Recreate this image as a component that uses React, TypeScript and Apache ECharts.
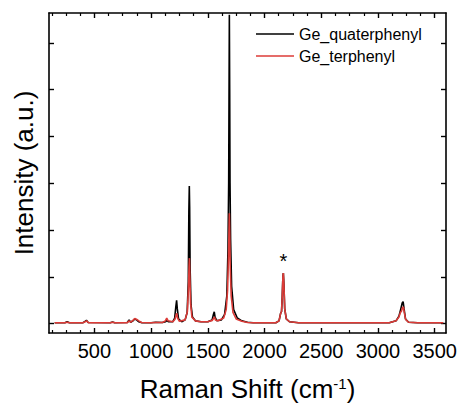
import React, { useEffect, useRef } from "react";
import * as echarts from "echarts";

// Raman spectra, [Raman shift (cm^-1), intensity (a.u.)]
const quaterphenylSpectrum: [number, number][] = [
  [150, 0.01], [240, 0.01], [260, 0.02], [280, 0.01], [400, 0.01], [418, 0.025], [430, 0.035], [445, 0.012],
  [640, 0.01], [660, 0.018], [680, 0.01], [790, 0.012], [806, 0.04], [820, 0.015], [840, 0.03], [856, 0.05],
  [872, 0.04], [892, 0.02], [920, 0.01], [1000, 0.01], [1040, 0.015], [1100, 0.012], [1128, 0.02], [1140, 0.035],
  [1152, 0.02], [1190, 0.02], [1208, 0.06], [1218, 0.18], [1225, 0.25], [1231, 0.16], [1242, 0.05], [1270, 0.02],
  [1300, 0.04], [1318, 0.12], [1328, 0.45], [1333, 1.2], [1337, 1.47], [1340, 1.25], [1344, 0.6], [1352, 0.2],
  [1365, 0.07], [1390, 0.03], [1440, 0.02], [1500, 0.02], [1538, 0.04], [1550, 0.1], [1557, 0.126], [1564, 0.07],
  [1580, 0.03], [1620, 0.04], [1648, 0.1], [1668, 0.3], [1678, 0.8], [1684, 1.5], [1687, 2.4], [1690, 3.3],
  [1693, 2.5], [1696, 1.5], [1701, 0.9], [1710, 0.4], [1728, 0.15], [1760, 0.06], [1800, 0.03], [1850, 0.015],
  [1900, 0.01], [2100, 0.01], [2128, 0.03], [2142, 0.11], [2150, 0.13], [2156, 0.28], [2162, 0.5], [2166, 0.54],
  [2171, 0.42], [2178, 0.16], [2192, 0.05], [2220, 0.02], [2300, 0.01], [3100, 0.01], [3160, 0.03], [3185, 0.08],
  [3200, 0.15], [3214, 0.22], [3222, 0.235], [3230, 0.16], [3243, 0.05], [3270, 0.015], [3350, 0.01], [3575, 0.01],
];

const terphenylSpectrum: [number, number][] = [
  [150, 0.01], [240, 0.01], [260, 0.015], [280, 0.01], [400, 0.01], [418, 0.02], [432, 0.03], [448, 0.01],
  [640, 0.01], [660, 0.015], [680, 0.01], [790, 0.01], [806, 0.03], [820, 0.015], [840, 0.035], [856, 0.055],
  [874, 0.045], [892, 0.03], [915, 0.012], [1000, 0.01], [1040, 0.012], [1100, 0.012], [1126, 0.03], [1138, 0.06],
  [1150, 0.03], [1192, 0.02], [1212, 0.05], [1222, 0.1], [1227, 0.11], [1234, 0.06], [1250, 0.025], [1300, 0.04],
  [1320, 0.13], [1330, 0.4], [1335, 0.62], [1338, 0.7], [1342, 0.5], [1348, 0.22], [1360, 0.07], [1390, 0.03],
  [1440, 0.02], [1500, 0.02], [1540, 0.035], [1552, 0.06], [1559, 0.07], [1567, 0.04], [1590, 0.03], [1640, 0.06],
  [1662, 0.15], [1674, 0.35], [1682, 0.7], [1687, 1.0], [1690, 1.18], [1693, 1.0], [1698, 0.6], [1706, 0.3],
  [1722, 0.12], [1750, 0.05], [1800, 0.025], [1850, 0.012], [1900, 0.01], [2100, 0.01], [2128, 0.03], [2142, 0.11],
  [2150, 0.13], [2156, 0.28], [2162, 0.5], [2166, 0.54], [2171, 0.42], [2178, 0.16], [2192, 0.05], [2220, 0.02],
  [2300, 0.01], [3100, 0.01], [3160, 0.03], [3185, 0.07], [3198, 0.12], [3206, 0.13], [3216, 0.17], [3224, 0.18],
  [3232, 0.12], [3244, 0.045], [3270, 0.015], [3350, 0.01], [3575, 0.01],
];

const seriesNames = ["Ge_quaterphenyl", "Ge_terphenyl"];
const seriesColors = ["#000000", "#dc3b37"];

// axis ticks (cm^-1 and a.u.)
const xMajorTicks = [500, 1000, 1500, 2000, 2500, 3000, 3500];
const xMinorTicks = [125, 250, 375, 625, 750, 875, 1125, 1250, 1375, 1625, 1750, 1875,
  2125, 2250, 2375, 2625, 2750, 2875, 3125, 3250, 3375];
const yTicks = [0, 0.5, 1, 1.5, 2, 2.5, 3];

// the peak marked with an asterisk
const markedPeak: [number, number] = [2166, 0.54];

const FONT = "'Liberation Sans', Arial, Helvetica, sans-serif";

export default function App() {
  const ref = useRef<HTMLDivElement>(null);

  useEffect(() => {
    if (!ref.current) return;
    const chart = echarts.init(ref.current, undefined, { renderer: "svg" });

    const frame = { show: true, onZero: false, lineStyle: { color: "#000", width: 1.6 } };
    const noLine = { show: false, onZero: false };
    const X_MIN = 100;
    const X_MAX = 3600;
    const Y_MIN = -0.1;
    const Y_MAX = 3.32;
    const majorTick = { color: "#000", width: 1.4 };
    const minorTick = { color: "#000", width: 1.2 };
    const gridBox = { left: 49, right: 15, top: 13, bottom: 71, containLabel: false, outerBoundsMode: "none" };

    // grid 0 carries the data and the major ticks, grid 1 (same box) only the minor x ticks
    const xAxisFor = (gridIndex: number, position: string, extra: object) => ({
      type: "value",
      gridIndex,
      position,
      min: X_MIN,
      max: X_MAX,
      splitLine: { show: false },
      axisLabel: { show: false },
      ...extra,
    });

    chart.setOption({
      animation: false,
      backgroundColor: "#fff",
      textStyle: { fontFamily: FONT },
      grid: [gridBox, gridBox],
      legend: {
        orient: "vertical",
        left: 251,
        top: 21,
        itemWidth: 38,
        itemHeight: 14,
        itemGap: 6,
        icon: "path://M0,7 L38,7 L38,8.4 L0,8.4 Z",
        data: seriesNames,
        textStyle: { fontSize: 16, color: "#000", fontFamily: FONT },
      },
      xAxis: [
        xAxisFor(0, "bottom", {
          axisLine: frame,
          axisTick: { show: true, inside: true, length: 5, customValues: xMajorTicks, lineStyle: majorTick },
          axisLabel: {
            show: true,
            customValues: xMajorTicks,
            hideOverlap: false,
            formatter: (v: number) => (xMajorTicks.includes(v) ? String(v) : ""),
            fontSize: 20,
            color: "#000",
            margin: 8,
            fontFamily: FONT,
          },
          name: "{a|Raman Shift (cm}{s|-1}{a|)}",
          nameLocation: "middle",
          nameGap: 42,
          nameTextStyle: {
            rich: {
              a: { fontSize: 26, lineHeight: 28, color: "#000", fontFamily: FONT },
              s: { fontSize: 15, lineHeight: 16, color: "#000", fontFamily: FONT, padding: [0, 0, 12, 0] },
            },
          },
        }),
        xAxisFor(0, "top", {
          axisLine: frame,
          axisTick: { show: true, inside: true, length: 5, customValues: xMajorTicks, lineStyle: majorTick },
        }),
        xAxisFor(1, "bottom", {
          axisLine: noLine,
          axisTick: { show: true, inside: true, length: 3, customValues: xMinorTicks, lineStyle: minorTick },
        }),
        xAxisFor(1, "top", {
          axisLine: noLine,
          axisTick: { show: true, inside: true, length: 3, customValues: xMinorTicks, lineStyle: minorTick },
        }),
      ],
      yAxis: [
        {
          type: "value",
          gridIndex: 0,
          position: "left",
          min: Y_MIN,
          max: Y_MAX,
          splitLine: { show: false },
          axisLabel: { show: false },
          axisLine: frame,
          axisTick: { show: true, inside: true, length: 5, customValues: yTicks, lineStyle: majorTick },
          name: "Intensity (a.u.)",
          nameLocation: "middle",
          nameGap: 12,
          nameTextStyle: { fontSize: 26, color: "#000", fontFamily: FONT },
        },
        {
          type: "value",
          gridIndex: 0,
          position: "right",
          min: Y_MIN,
          max: Y_MAX,
          splitLine: { show: false },
          axisLabel: { show: false },
          axisLine: frame,
          axisTick: { show: true, inside: true, length: 5, customValues: yTicks, lineStyle: majorTick },
        },
        {
          type: "value",
          gridIndex: 1,
          min: Y_MIN,
          max: Y_MAX,
          show: false,
        },
      ],
      series: [
        {
          name: seriesNames[0],
          type: "line",
          xAxisIndex: 0,
          yAxisIndex: 0,
          data: quaterphenylSpectrum,
          symbol: "none",
          color: seriesColors[0],
          lineStyle: { color: seriesColors[0], width: 1.6 },
        },
        {
          name: seriesNames[1],
          type: "line",
          xAxisIndex: 0,
          yAxisIndex: 0,
          data: terphenylSpectrum,
          symbol: "none",
          color: seriesColors[1],
          lineStyle: { color: seriesColors[1], width: 1.6 },
          markPoint: {
            symbol: "circle",
            symbolSize: 0,
            data: [{ coord: markedPeak }],
            label: {
              show: true,
              formatter: "*",
              position: "top",
              distance: 2,
              fontSize: 20,
              color: "#000",
              fontFamily: FONT,
            },
          },
        },
      ],
    });

    return () => chart.dispose();
  }, []);

  return (
    <div
      ref={ref}
      style={{ position: "fixed", left: 0, top: 0, width: 461, height: 404, background: "#fff" }}
    />
  );
}
